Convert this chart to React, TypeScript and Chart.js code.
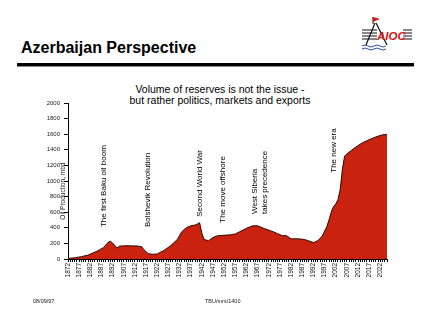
import React, { useEffect, useRef } from 'react';
import { Chart, registerables } from 'chart.js';

Chart.register(...registerables);

// ---- data ----
const years = [
  1882, 1885, 1888, 1891, 1895, 1898, 1900, 1901, 1902, 1904, 1905, 1908, 1913, 1915, 1916,
  1918, 1920, 1922, 1925, 1928, 1931, 1933, 1935, 1937, 1939, 1940, 1941, 1942, 1943, 1945,
  1947, 1949, 1952, 1955, 1957, 1959, 1962, 1965, 1967, 1970, 1973, 1976, 1978, 1980, 1982,
  1985, 1988, 1990, 1992, 1994, 1996, 1998, 1999, 2000, 2001, 2002, 2003, 2004, 2005, 2006,
  2008, 2011, 2014, 2017, 2020, 2023, 2025,
];
const production = [
  8, 15, 30, 50, 100, 148, 215, 228, 205, 140, 165, 170, 167, 158, 120,
  68, 60, 65, 110, 170, 250, 350, 400, 425, 436, 448, 465, 330, 250, 235,
  275, 298, 305, 310, 322, 350, 394, 427, 425, 390, 360, 325, 300, 298, 258,
  260, 250, 232, 210, 235, 295, 414, 500, 600, 671, 705, 760, 885, 1150, 1320,
  1370, 1435, 1490, 1530, 1565, 1592, 1595,
];
const tickLabels = [
  '1872', '1877', '1882', '1887', '1892', '1907', '1912', '1917', '1922', '1927',
  '1932', '1937', '1942', '1947', '1952', '1957', '1962', '1967', '1972', '1977',
  '1982', '1987', '1992', '1997', '2002', '2007', '2012', '2017', '2022',
];
const firstTickYear = 1882;
const lastYear = 2025;
const yTicks = [0, 200, 400, 600, 800, 1000, 1200, 1400, 1600, 1800, 2000];

const annotationLines = [
  ['The first Baku oil boom'],
  ['Bolshevik Revolution'],
  ['Second World War'],
  ['The move offshore'],
  ['West Siberia', 'takes precedence'],
  ['The new era'],
];
const annotationYears = [1898.1, 1917.9, 1941.2, 1951.6, 1965.9, 2001.0];
const annotationLevels = [410, 410, 542, 465, 577, 1106];

const yAxisTitle = 'Oil Production, mbd';
const headerTitle = 'Azerbaijan Perspective';
const subtitle = ['Volume of reserves is not the issue -', 'but rather politics, markets and exports'];
const footerLeft = '08/09/97';
const footerCenter = 'TBU/mrs/1400';

const FONT = '"Liberation Sans", Arial, Helvetica, sans-serif';

const annotationPlugin = {
  id: 'annots',
  afterDatasetsDraw(chart: any) {
    const { ctx, scales, chartArea } = chart;
    const xs = scales.x;
    const ys = scales.y;
    ctx.save();
    ctx.fillStyle = '#000';
    ctx.font = `8px ${FONT}`;
    ctx.textAlign = 'left';
    ctx.textBaseline = 'middle';
    annotationLines.forEach((lines, i) => {
      const x0 = xs.getPixelForValue(annotationYears[i]);
      const y0 = ys.getPixelForValue(annotationLevels[i]);
      lines.forEach((line, j) => {
        ctx.save();
        ctx.translate(x0 + j * 10, y0);
        ctx.rotate(-Math.PI / 2);
        ctx.fillText(line, 0, 0);
        ctx.restore();
      });
    });
    // y axis title
    ctx.save();
    ctx.font = `6.5px ${FONT}`;
    ctx.textAlign = 'center';
    ctx.textBaseline = 'middle';
    ctx.fillStyle = '#222';
    ctx.translate(chartArea.left - 5, ys.getPixelForValue(870));
    ctx.rotate(-Math.PI / 2);
    ctx.fillText(yAxisTitle, 0, 0);
    ctx.restore();
    ctx.restore();
  },
};

function ChartCanvas() {
  const ref = useRef<HTMLCanvasElement | null>(null);
  useEffect(() => {
    if (!ref.current) return;
    Chart.defaults.font.family = FONT;
    const tickYears: number[] = [];
    for (let y = firstTickYear; y <= lastYear; y++) tickYears.push(y);
    const chart = new Chart(ref.current, {
      type: 'line',
      data: {
        datasets: [
          {
            data: years.map((y, i) => ({ x: y, y: production[i] })),
            borderColor: '#2a0800',
            borderWidth: 1,
            backgroundColor: '#c9230f',
            fill: 'origin',
            pointRadius: 0,
            tension: 0,
          },
        ],
      },
      options: {
        animation: false,
        responsive: false,
        layout: { padding: { left: 0, top: 103, right: 45, bottom: 0 } },
        plugins: { legend: { display: false }, tooltip: { enabled: false } },
        scales: {
          x: {
            type: 'linear',
            min: firstTickYear,
            max: lastYear,
            afterBuildTicks: (axis: any) => {
              axis.ticks = tickYears.map((v) => ({ value: v }));
            },
            afterFit: (scale: any) => {
              scale.height = 63;
            },
            ticks: {
              autoSkip: false,
              minRotation: 90,
              maxRotation: 90,
              padding: 1,
              color: '#111',
              font: { size: 6.5 },
              callback: (value: any) => {
                const d = Number(value) - firstTickYear;
                return d % 5 === 0 ? tickLabels[d / 5] ?? '' : '';
              },
            },
            grid: { display: true, drawOnChartArea: false, tickLength: 3, color: '#000' },
            border: { display: true, color: '#000', width: 1 },
          },
          y: {
            min: 0,
            max: 2000,
            afterBuildTicks: (axis: any) => {
              axis.ticks = yTicks.map((v) => ({ value: v }));
            },
            afterFit: (scale: any) => {
              scale.width = 68;
            },
            ticks: {
              padding: 4,
              color: '#222',
              font: { size: 6 },
              callback: (value: any) => String(value),
            },
            grid: { display: true, drawOnChartArea: false, tickLength: 4, color: '#000' },
            border: { display: true, color: '#000', width: 1 },
          },
        },
      },
      plugins: [annotationPlugin],
    });
    return () => chart.destroy();
  }, []);
  return (
    <canvas
      ref={ref}
      width={432}
      height={322}
      style={{ position: 'absolute', left: 0, top: 0, width: 432, height: 322 }}
    />
  );
}

function Logo() {
  return (
    <svg
      style={{ position: 'absolute', left: 358, top: 14 }}
      width={58}
      height={40}
      viewBox="0 0 58 40"
    >
      {[16, 19, 22, 25].map((y) => (
        <line key={'l' + y} x1={4} y1={y} x2={19} y2={y} stroke="#111" strokeWidth={1} />
      ))}
      {[16, 19, 22, 25].map((y) => (
        <line key={'r' + y} x1={45} y1={y} x2={54} y2={y} stroke="#111" strokeWidth={1} />
      ))}
      <line x1={17} y1={9} x2={8} y2={31} stroke="#111" strokeWidth={1.2} />
      <line x1={18} y1={9} x2={29} y2={31} stroke="#111" strokeWidth={1.2} />
      <line x1={15} y1={3} x2={15} y2={10} stroke="#111" strokeWidth={1} />
      <polygon points="15,3 22,5 15,8" fill="#d01818" />
      <text
        x={19}
        y={25.5}
        fill="#d01818"
        fontFamily={FONT}
        fontWeight="bold"
        fontStyle="italic"
        fontSize={11.5}
      >
        AIOC
      </text>
      <path d="M4 32 q3 -2 6 0 t6 0 t6 0 t6 0" stroke="#3050b0" strokeWidth={1} fill="none" />
      <path d="M4 35 q3 -2 6 0 t6 0 t6 0 t6 0" stroke="#3050b0" strokeWidth={1} fill="none" />
    </svg>
  );
}

export default function App() {
  return (
    <div
      style={{
        position: 'absolute',
        left: 0,
        top: 0,
        width: 432,
        height: 322,
        background: '#fff',
        overflow: 'hidden',
        fontFamily: FONT,
      }}
    >
      <div
        style={{
          position: 'absolute',
          left: 21,
          top: 39.8,
          fontSize: 16,
          lineHeight: '16px',
          fontWeight: 'bold',
          color: '#000',
          whiteSpace: 'nowrap',
        }}
      >
        {headerTitle}
      </div>
      <div
        style={{
          position: 'absolute',
          left: 17,
          top: 63,
          width: 397,
          height: 2.5,
          background: '#000',
          boxShadow: '0 1px 0 #888',
        }}
      />
      <Logo />
      <div
        style={{
          position: 'absolute',
          left: 70,
          width: 300,
          top: 83.5,
          fontSize: 10.5,
          lineHeight: '11.7px',
          textAlign: 'center',
          color: '#000',
          whiteSpace: 'nowrap',
        }}
      >
        {subtitle.map((s, i) => (
          <div key={i}>{s}</div>
        ))}
      </div>
      <ChartCanvas />
      <div
        style={{
          position: 'absolute',
          left: 33,
          top: 298,
          fontSize: 5.5,
          lineHeight: '6px',
          color: '#222',
          whiteSpace: 'nowrap',
        }}
      >
        {footerLeft}
      </div>
      <div
        style={{
          position: 'absolute',
          left: 205,
          top: 298,
          fontSize: 5.5,
          lineHeight: '6px',
          color: '#222',
          whiteSpace: 'nowrap',
        }}
      >
        {footerCenter}
      </div>
    </div>
  );
}
